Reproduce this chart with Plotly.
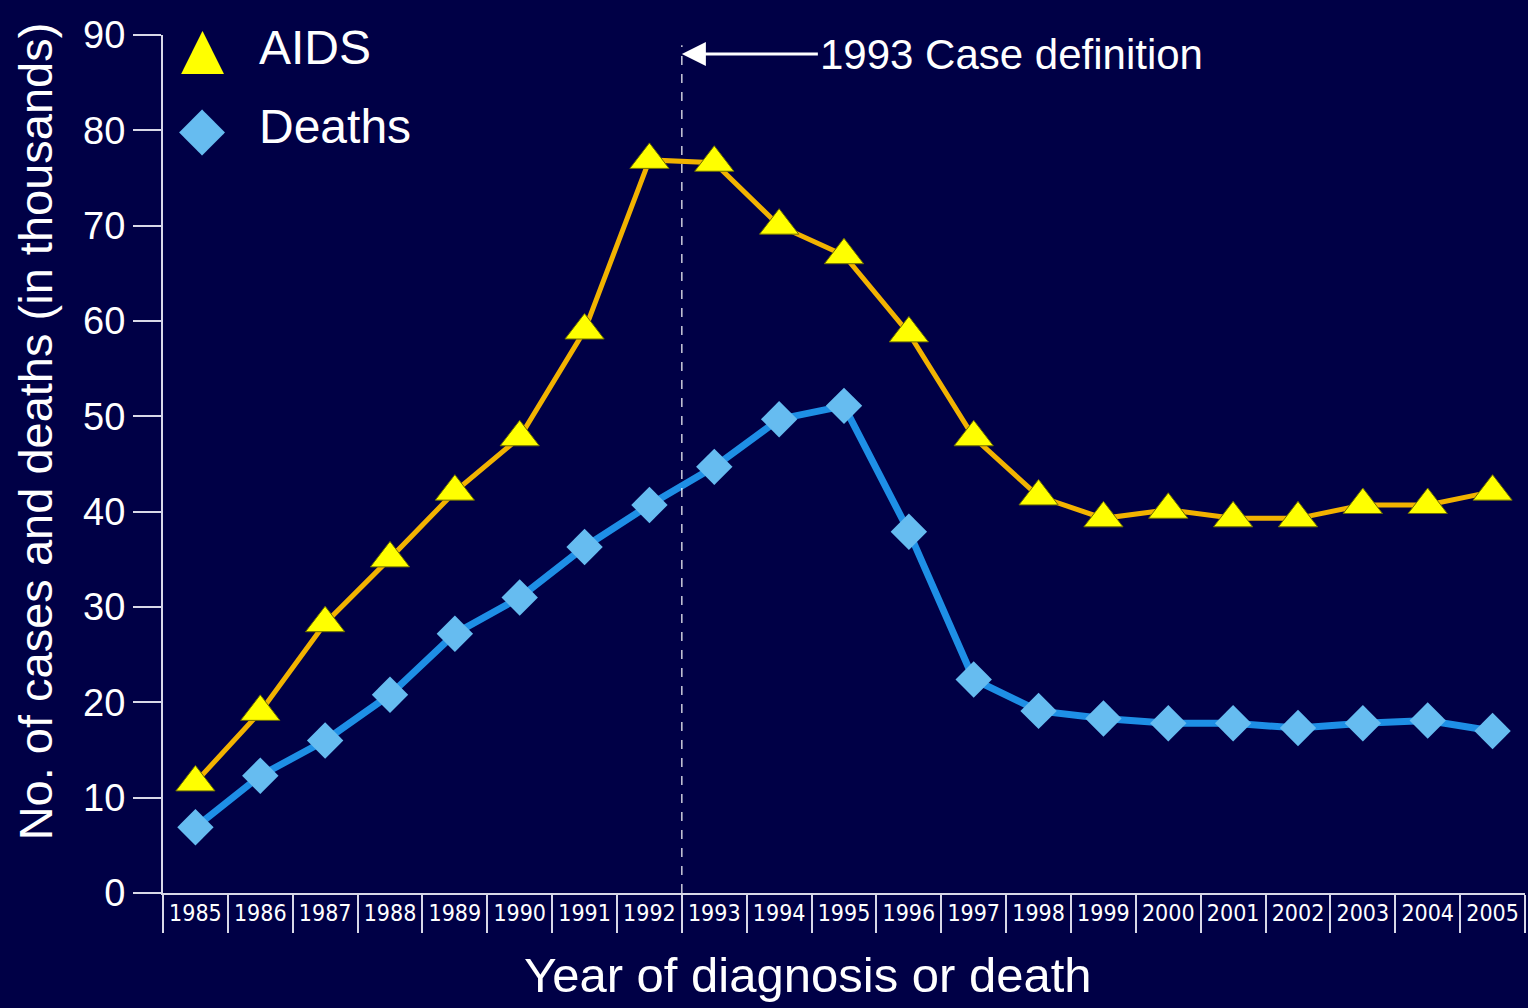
import plotly.graph_objects as go

years = [str(y) for y in range(1985, 2006)]
aids = [11.6, 19.0, 28.3, 35.1, 42.1, 47.8, 59.0, 76.9, 76.6, 70.0, 66.9,
        58.7, 47.8, 41.6, 39.3, 40.2, 39.3, 39.3, 40.7, 40.7, 42.1]
deaths = [6.9, 12.3, 16.0, 20.8, 27.2, 31.0, 36.3, 40.7, 44.7, 49.7, 51.1,
          37.9, 22.4, 19.1, 18.3, 17.8, 17.8, 17.3, 17.8, 18.1, 17.0]

BG = "#000046"
FONT = "Liberation Sans, Arial, sans-serif"
NARROW = "DejaVu Sans Condensed, Liberation Sans Narrow, sans-serif"

fig = go.Figure()

fig.add_trace(
    go.Scatter(
        x=years, y=aids, mode="lines+markers", name="AIDS",
        line=dict(color="#F2B300", width=5),
        marker=dict(symbol="triangle-up", size=34, color="#FFFF00",
                    line=dict(color="#6b6b00", width=1)),
        showlegend=False,
    )
)
fig.add_trace(
    go.Scatter(
        x=years, y=deaths, mode="lines+markers", name="Deaths",
        line=dict(color="#1E8FE6", width=7),
        marker=dict(symbol="diamond", size=28, color="#66BCF0",
                    line=dict(width=0)),
        showlegend=False,
    )
)

# 1993 case definition marker
fig.add_shape(type="line", xref="x", yref="paper", x0=7.5, x1=7.5, y0=0, y1=0.988,
              line=dict(color="white", width=1.2, dash="dash"))
fig.add_annotation(
    x=7.5, y=88.0, xref="x", yref="y", text="1993 Case definition",
    showarrow=True, ax=136, ay=0, xanchor="left",
    arrowhead=2, arrowsize=1.6, arrowwidth=3, arrowcolor="white",
    font=dict(family=FONT, size=42, color="white"),
)

# legend keys
fig.add_annotation(x=0.029, y=0.985, xref="paper", yref="paper", text="▲",
                   showarrow=False, font=dict(family="DejaVu Sans", size=56, color="#FFFF00"),
                   xanchor="center", yanchor="middle")
fig.add_annotation(x=0.029, y=0.893, xref="paper", yref="paper", text="◆",
                   showarrow=False, font=dict(family="DejaVu Sans", size=60, color="#66BCF0"),
                   xanchor="center", yanchor="middle")
fig.add_annotation(x=0.069, y=0.985, xref="paper", yref="paper", text="AIDS",
                   showarrow=False, font=dict(family=FONT, size=48, color="white"),
                   xanchor="left", yanchor="middle")
fig.add_annotation(x=0.069, y=0.893, xref="paper", yref="paper", text="Deaths",
                   showarrow=False, font=dict(family=FONT, size=48, color="white"),
                   xanchor="left", yanchor="middle")

# axis titles
fig.add_annotation(x=-0.094, y=0.538, xref="paper", yref="paper",
                   text="No. of cases and deaths (in thousands)", textangle=-90,
                   showarrow=False, font=dict(family=FONT, size=47, color="white"),
                   xanchor="center", yanchor="middle")
fig.add_annotation(x=0.4736, y=-0.0956, xref="paper", yref="paper",
                   text="Year of diagnosis or death",
                   showarrow=False, font=dict(family=FONT, size=49, color="white"),
                   xanchor="center", yanchor="middle")

fig.update_layout(
    width=1528, height=1008,
    margin=dict(l=163, r=3, t=35, b=115),
    paper_bgcolor=BG, plot_bgcolor=BG,
    xaxis=dict(
        type="category", range=[-0.5, 20.5], showgrid=False, zeroline=False,
        showline=True, linecolor="#d8d8e8", linewidth=2,
        ticks="outside", tickson="boundaries", ticklen=38, tickwidth=1.5,
        tickcolor="#d8d8e8", ticklabelstandoff=-2, tickangle=0,
        tickfont=dict(family=NARROW, size=23, color="white"),
    ),
    yaxis=dict(
        range=[0, 90], dtick=10, showgrid=False, zeroline=False,
        showline=True, linecolor="#d8d8e8", linewidth=2,
        ticks="outside", ticklen=28, tickwidth=2, tickcolor="#d8d8e8",
        tickfont=dict(family=FONT, size=38, color="white"),
    ),
)

fig.write_html(
    "out.html",
    config={"displayModeBar": False},
    post_script="document.body.style.margin='0';document.body.style.background='" + BG + "';",
)
